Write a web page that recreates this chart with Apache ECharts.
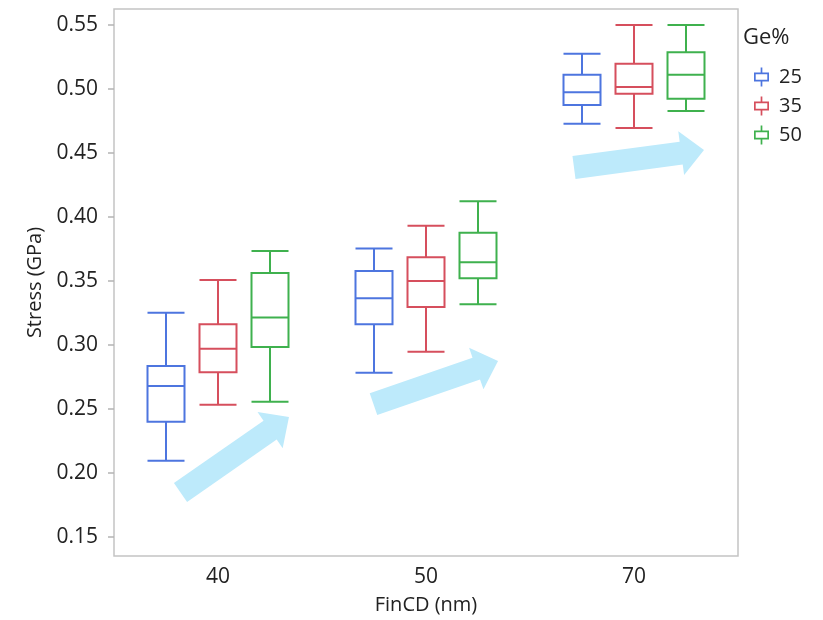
<!DOCTYPE html>
<html>
<head>
<meta charset="utf-8">
<script src="https://cdn.jsdelivr.net/npm/echarts@6/dist/echarts.min.js"></script>
<style>
  html, body { margin: 0; padding: 0; background: #ffffff; }
  #chart { width: 823px; height: 620px; }
</style>
</head>
<body>
<div id="chart"></div>
<script>
// FinCD groups on the x axis and Ge% levels as series
const finCD = ['40', '50', '70'];
const geLevels = ['25', '35', '50'];
const geColors = ['#4d75df', '#d64f5d', '#3fb14e'];

// Box statistics per FinCD group: [min, Q1, median, Q3, max] in GPa
const ge25 = [
  [0.2096, 0.2401, 0.2680, 0.2836, 0.3252],
  [0.2784, 0.3162, 0.3365, 0.3578, 0.3755],
  [0.4729, 0.4875, 0.4974, 0.5112, 0.5276]
];
const ge35 = [
  [0.2534, 0.2787, 0.2971, 0.3162, 0.3508],
  [0.2948, 0.3297, 0.3500, 0.3685, 0.3932],
  [0.4695, 0.4963, 0.5016, 0.5198, 0.5500]
];
const ge50 = [
  [0.2557, 0.2984, 0.3216, 0.3563, 0.3734],
  [0.3318, 0.3521, 0.3646, 0.3878, 0.4123],
  [0.4828, 0.4924, 0.5112, 0.5287, 0.5500]
];

const yTicks = [0.15, 0.20, 0.25, 0.30, 0.35, 0.40, 0.45, 0.50, 0.55];
const yMin = 0.1352;
const yMax = 0.5625;

// Trend arrows: [slot position, stress] for tail and tip
const trendArrows = [
  { tail: [1.279, 0.1848], tip: [3.365, 0.2438] },
  { tail: [4.990, 0.2539], tip: [7.385, 0.2875] },
  { tail: [8.846, 0.4387], tip: [11.346, 0.4523] }
];

// Each FinCD group spans four slots; the boxes sit in slots 1..3 of a group
const SLOTS = 13;
function slotData(stats, seriesIdx) {
  const out = [];
  for (let i = 0; i < SLOTS; i++) out.push(['-', '-', '-', '-', '-']);
  stats.forEach(function (s, g) { out[4 * g + seriesIdx + 1] = s.slice(); });
  return out;
}

const allStats = [ge25, ge35, ge50];
const fontFamily = '"Open Sans", "Noto Sans", sans-serif';
const textColor = '#222222';

// Legend glyph: a small box with whiskers, drawn as a filled outline
const boxGlyph = 'path://M0 5L15 5L15 14L0 14Z M1.7 6.7L1.7 12.3L13.3 12.3L13.3 6.7Z ' +
  'M6.65 0L8.35 0L8.35 5L6.65 5Z M6.65 14L8.35 14L8.35 19L6.65 19Z';

const hiddenSlotAxis = {
  type: 'category',
  data: new Array(SLOTS).fill(''),
  boundaryGap: false,
  show: false,
  gridIndex: 0
};

const chart = echarts.init(document.getElementById('chart'), null, { renderer: 'canvas' });

chart.setOption({
  backgroundColor: '#ffffff',
  animation: false,
  textStyle: { fontFamily: fontFamily },
  title: {
    text: 'Ge%',
    left: 738,
    top: 22,
    textStyle: { fontFamily: fontFamily, fontSize: 22, fontWeight: 'normal', color: textColor }
  },
  legend: {
    orient: 'vertical',
    left: 749,
    top: 62,
    itemWidth: 15,
    itemHeight: 19,
    itemGap: 9,
    selectedMode: false,
    textStyle: { fontFamily: fontFamily, fontSize: 20, color: textColor, padding: [0, 0, 0, 5] },
    data: geLevels.map(function (name, i) {
      return { name: name, icon: boxGlyph, itemStyle: { color: geColors[i], borderWidth: 0 } };
    })
  },
  grid: {
    left: 114,
    right: 85,
    top: 9,
    bottom: 64,
    show: true,
    borderColor: '#c4c4c4',
    borderWidth: 1.5,
    backgroundColor: '#ffffff',
    containLabel: false,
    outerBoundsMode: 'none'
  },
  xAxis: [
    {
      type: 'category',
      data: finCD,
      boundaryGap: true,
      name: 'FinCD (nm)',
      nameLocation: 'middle',
      nameGap: 39,
      nameTextStyle: { fontFamily: fontFamily, fontSize: 20, color: textColor },
      axisLine: { show: false },
      axisTick: { show: false },
      splitLine: { show: false },
      axisLabel: { fontFamily: fontFamily, fontSize: 21, color: textColor, margin: 11 }
    },
    Object.assign({}, hiddenSlotAxis),
    Object.assign({}, hiddenSlotAxis),
    Object.assign({}, hiddenSlotAxis),
    { type: 'value', min: 0, max: SLOTS - 1, show: false, gridIndex: 0 }
  ],
  yAxis: {
    type: 'value',
    min: yMin,
    max: yMax,
    name: 'Stress (GPa)',
    nameLocation: 'middle',
    nameRotate: 90,
    nameGap: 64,
    nameTextStyle: { fontFamily: fontFamily, fontSize: 20, color: textColor },
    axisLine: { show: false },
    splitLine: { show: false },
    axisTick: {
      show: true,
      length: 6,
      customValues: yTicks,
      lineStyle: { color: '#b4b4b4', width: 1.5 }
    },
    axisLabel: {
      fontFamily: fontFamily,
      fontSize: 21,
      color: textColor,
      margin: 16,
      customValues: yTicks,
      formatter: function (v) { return v.toFixed(2); }
    }
  },
  series: allStats.map(function (stats, i) {
    return {
      name: geLevels[i],
      type: 'boxplot',
      xAxisIndex: i + 1,
      yAxisIndex: 0,
      boxWidth: [37, 37],
      silent: true,
      itemStyle: { color: '#ffffff', borderColor: geColors[i], borderWidth: 2 },
      emphasis: { disabled: true },
      data: slotData(stats, i)
    };
  })
});

// Fat trend arrows, positioned through the axes
function arrowPolygon(p0, p1) {
  const dx = p1[0] - p0[0], dy = p1[1] - p0[1];
  const len = Math.sqrt(dx * dx + dy * dy);
  const ux = dx / len, uy = dy / len;
  const nx = -uy, ny = ux;
  const shaftHalf = 11.5, headHalf = 22, headLen = 23;
  const nk = [p1[0] - ux * headLen, p1[1] - uy * headLen];
  return [
    [p0[0] + nx * shaftHalf, p0[1] + ny * shaftHalf],
    [nk[0] + nx * shaftHalf, nk[1] + ny * shaftHalf],
    [nk[0] + nx * headHalf, nk[1] + ny * headHalf],
    [p1[0], p1[1]],
    [nk[0] - nx * headHalf, nk[1] - ny * headHalf],
    [nk[0] - nx * shaftHalf, nk[1] - ny * shaftHalf],
    [p0[0] - nx * shaftHalf, p0[1] - ny * shaftHalf]
  ];
}
function toPixel(pt) {
  return [
    chart.convertToPixel({ xAxisIndex: 4 }, pt[0]),
    chart.convertToPixel({ yAxisIndex: 0 }, pt[1])
  ];
}
chart.setOption({
  graphic: trendArrows.map(function (a) {
    return {
      type: 'polygon',
      z: 1,
      silent: true,
      shape: { points: arrowPolygon(toPixel(a.tail), toPixel(a.tip)) },
      style: { fill: '#bdeafb' }
    };
  })
});
</script>
</body>
</html>
